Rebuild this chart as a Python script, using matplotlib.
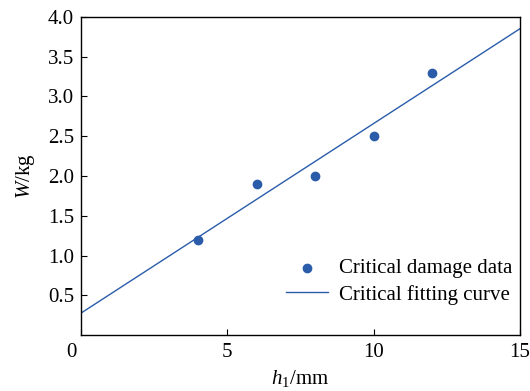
import numpy as np
import matplotlib.pyplot as plt
import matplotlib.transforms as mtransforms

# Critical damage data
h1 = [4, 6, 8, 10, 12]
weight = [1.2, 1.9, 2.0, 2.5, 3.3]

# Fitted line end points (x range of the axis)
fit_x = [0, 15]
fit_y = [0.277, 3.85]

plt.rcParams['font.family'] = ['Liberation Serif', 'DejaVu Serif']
plt.rcParams['mathtext.fontset'] = 'custom'
plt.rcParams['mathtext.rm'] = 'Liberation Serif'
plt.rcParams['mathtext.it'] = 'Liberation Serif:italic'

blue = '#2a5caa'

fig = plt.figure(figsize=(5.3, 3.91), dpi=100)
ax = fig.add_axes([0.153, 0.143, 0.828, 0.814])

ax.scatter(h1, weight, s=36, color=blue, zorder=3, label='Critical damage data')
ax.plot(fit_x, fit_y, color=blue, linewidth=1.0, label='Critical fitting curve')

ax.set_xlim(0, 15)
ax.set_ylim(0, 4.0)
ax.set_xticks([0, 5, 10, 15])
ax.set_yticks([0.5, 1.0, 1.5, 2.0, 2.5, 3.0, 3.5, 4.0])
ax.set_yticklabels(['0.5', '1.0', '1.5', '2.0', '2.5', '3.0', '3.5', '4.0'])
ax.tick_params(direction='in', labelsize=15, length=4, width=0.8)
ax.tick_params(axis='x', pad=6)
ax.tick_params(axis='y', pad=5)

# the origin "0" sits left of the corner
zero_lbl = ax.get_xticklabels()[0]
zero_lbl.set_horizontalalignment('right')
zero_lbl.set_transform(zero_lbl.get_transform() +
                       mtransforms.ScaledTranslation(-3 / 72, 0, fig.dpi_scale_trans))

for sp in ax.spines.values():
    sp.set_linewidth(1.0)

ax.set_xlabel('$h_{\\mathrm{1}}$/mm', fontsize=15, labelpad=4)
ax.set_ylabel('$W$/kg', fontsize=15, labelpad=8)

ax.legend(loc='lower right', bbox_to_anchor=(1.015, 0.05), frameon=False, fontsize=15,
          handlelength=2.0, borderaxespad=0.3, labelspacing=0.3, handletextpad=0.5)

fig.savefig('out.png', dpi=100)
